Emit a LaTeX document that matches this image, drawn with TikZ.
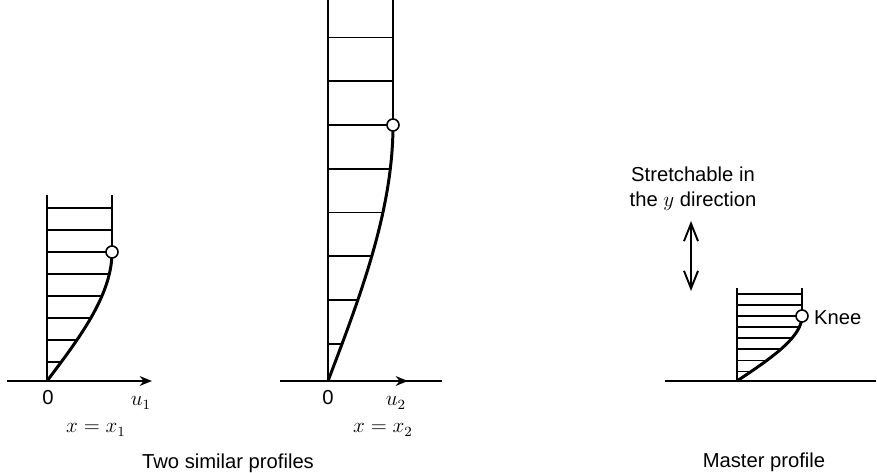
\documentclass[tikz,border=0pt]{standalone}
\usepackage{amsmath}
\usepackage{fontspec}
\setmainfont{Liberation Sans}
\usetikzlibrary{arrows.meta}

\begin{document}
\begin{tikzpicture}[x=0.02cm,y=0.02cm,font=\fontsize{11.5}{14}\selectfont]
\useasboundingbox (0,0) rectangle (877,473);
% three profiles: wall x / knee height / top height, ground at y=92
\foreach \xw/\hk/\ht in {47/129/186, 328/256/381, 737/65/93} {
  \draw[line width=1.1pt] (\xw,92) -- (\xw,92+\ht);
  \draw[line width=1.1pt] (\xw+65,92+\hk) -- (\xw+65,92+\ht);
  \draw[line width=1.7pt,domain=0:1,samples=60] plot({\xw+65*(1.5*\x-0.5*\x*\x*\x)},{92+\hk*\x});
  \foreach \k in {0,...,7} {
    \pgfmathsetmacro\hh{0.145+0.171*\k}
    \pgfmathsetmacro\uu{\hh<1 ? 65*(1.5*\hh-0.5*\hh*\hh*\hh) : 65}
    \draw[line width=1pt] (\xw,92+\hk*\hh) -- (\xw+\uu,92+\hk*\hh);
  }
  \draw[line width=0.9pt,fill=white] (\xw+65,92+\hk) circle [radius=6];
}
% ground lines
\draw[line width=1.1pt,-{Stealth[length=7pt,width=5.5pt]}] (7,92) -- (152,92);
\draw[line width=1.1pt,-{Stealth[length=7pt,width=5.5pt]}] (280,92) -- (408,92);
\draw[line width=1.1pt] (400,92) -- (442,92);
\draw[line width=1.1pt] (665,92) -- (876,92);
%\draw[dashed] (0,92) -- (877,92);

\node (zero1) at (48,75) {0};
\node (u1) at (141,70) {$u_1$};
\node (xone) at (96,43) {$x = x_1$};
\node (zero2) at (328,75) {0};
\node (u2) at (396,70) {$u_2$};
\node (xtwo) at (383,43) {$x = x_2$};
\node (twosim) at (228,10) {Two similar profiles};
\node (master) at (764,11) {Master profile};
\node[right] (knee) at (808,155) {Knee};
\node[align=center] (stretch) at (693,284) {Stretchable in\\the $y$ direction};

% stretch arrow
\draw[line width=1.1pt,{Straight Barb[length=10pt,width=8pt]}-{Straight Barb[length=10pt,width=8pt]}] (691,252) -- (691,182);
\end{tikzpicture}
\end{document}
